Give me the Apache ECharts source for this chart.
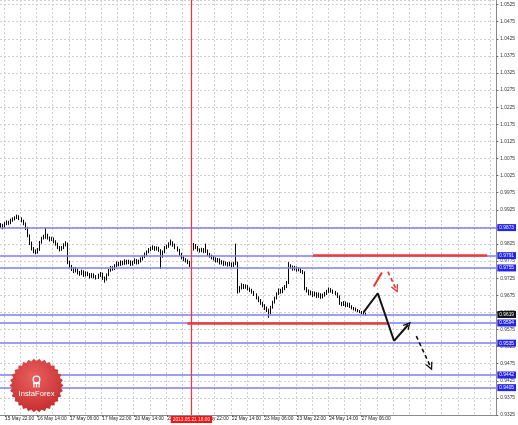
<!DOCTYPE html>
<html><head><meta charset="utf-8">
<script src="https://cdn.jsdelivr.net/npm/echarts@6/dist/echarts.min.js"></script>
<style>html,body{margin:0;padding:0;background:#fff;overflow:hidden}#c{width:518px;height:425px}</style>
</head><body><div id="c"></div>
<script>
// ---- DATA (H1 bars) ----
const opens=[0.9878,0.9880,0.9876,0.9884,0.9889,0.9886,0.9894,0.9898,0.9902,0.9906,0.9900,0.9893,0.9885,
0.9872,0.9850,0.9828,0.9812,0.9805,0.9801,0.9808,0.9830,0.9842,0.9846,0.9851,0.9843,0.9838,0.9841,0.9832,0.9826,0.9815,0.9809,0.9814,0.9822,
0.9826,0.9772,0.9760,0.9752,0.9746,0.9752,0.9741,0.9738,0.9745,0.9734,0.9740,0.9736,0.9729,0.9735,0.9730,0.9727,0.9733,0.9738,0.9726,0.9722,
0.9735,0.9748,0.9756,0.9752,0.9762,0.9769,0.9765,0.9772,0.9768,0.9775,0.9770,0.9774,0.9766,0.9771,0.9778,0.9770,0.9774,0.9781,0.9788,0.9795,
0.9802,0.9808,0.9812,0.9816,0.9810,0.9814,0.9807,0.9790,0.9802,0.9815,0.9818,0.9825,0.9830,0.9822,0.9815,0.9808,0.9796,0.9785,0.9780,0.9776,
0.9772,0.9768,0.9810,0.9822,0.9815,0.9808,0.9805,0.9810,0.9803,0.9806,0.9795,0.9790,0.9786,0.9782,0.9776,0.9780,0.9770,0.9773,0.9766,0.9769,
0.9764,0.9768,0.9762,0.9767,0.9770,0.9688,0.9697,0.9705,0.9698,0.9702,0.9694,0.9690,0.9685,0.9678,0.9668,0.9660,0.9652,0.9645,0.9638,0.9632,
0.9625,0.9640,0.9655,0.9667,0.9680,0.9690,0.9685,0.9694,0.9700,0.9712,0.9762,0.9758,0.9752,0.9756,0.9749,0.9752,0.9745,0.9742,0.9695,0.9688,
0.9680,0.9684,0.9676,0.9681,0.9672,0.9678,0.9670,0.9675,0.9680,0.9686,0.9692,0.9688,0.9684,0.9680,0.9672,0.9652,0.9648,0.9654,0.9645,0.9650,
0.9642,0.9638,0.9636,0.9632,0.9630,0.9627,0.9624,0.9621];
const closes=[0.9880,0.9876,0.9884,0.9889,0.9886,0.9894,0.9898,0.9902,0.9906,0.9900,0.9893,0.9885,0.9872,
0.9850,0.9828,0.9812,0.9805,0.9801,0.9808,0.9830,0.9842,0.9846,0.9851,0.9843,0.9838,0.9841,0.9832,0.9826,0.9815,0.9809,0.9814,0.9822,0.9826,
0.9772,0.9760,0.9752,0.9746,0.9752,0.9741,0.9738,0.9745,0.9734,0.9740,0.9736,0.9729,0.9735,0.9730,0.9727,0.9733,0.9738,0.9726,0.9722,0.9735,
0.9748,0.9756,0.9752,0.9762,0.9769,0.9765,0.9772,0.9768,0.9775,0.9770,0.9774,0.9766,0.9771,0.9778,0.9770,0.9774,0.9781,0.9788,0.9795,0.9802,
0.9808,0.9812,0.9816,0.9810,0.9814,0.9807,0.9790,0.9802,0.9815,0.9818,0.9825,0.9830,0.9822,0.9815,0.9808,0.9796,0.9785,0.9780,0.9776,0.9772,
0.9768,0.9810,0.9822,0.9815,0.9808,0.9805,0.9810,0.9803,0.9806,0.9795,0.9790,0.9786,0.9782,0.9776,0.9780,0.9770,0.9773,0.9766,0.9769,0.9764,
0.9768,0.9762,0.9767,0.9770,0.9688,0.9697,0.9705,0.9698,0.9702,0.9694,0.9690,0.9685,0.9678,0.9668,0.9660,0.9652,0.9645,0.9638,0.9632,0.9625,
0.9640,0.9655,0.9667,0.9680,0.9690,0.9685,0.9694,0.9700,0.9712,0.9762,0.9758,0.9752,0.9756,0.9749,0.9752,0.9745,0.9742,0.9695,0.9688,0.9680,
0.9684,0.9676,0.9681,0.9672,0.9678,0.9670,0.9675,0.9680,0.9686,0.9692,0.9688,0.9684,0.9680,0.9672,0.9652,0.9648,0.9654,0.9645,0.9650,0.9642,
0.9638,0.9636,0.9632,0.9630,0.9627,0.9624,0.9621,0.9619];
const highs=[0.9886,0.9884,0.9889,0.9894,0.9893,0.9899,0.9903,0.9906,0.9911,0.9909,0.9903,0.9896,0.9888,
0.9875,0.9853,0.9832,0.9816,0.9809,0.9813,0.9834,0.9846,0.9852,0.9872,0.9855,0.9847,0.9846,0.9844,0.9836,0.9829,0.9819,0.9819,0.9827,0.9833,
0.9829,0.9776,0.9764,0.9757,0.9758,0.9755,0.9746,0.9750,0.9748,0.9745,0.9744,0.9740,0.9740,0.9739,0.9734,0.9738,0.9743,0.9741,0.9730,0.9739,
0.9752,0.9761,0.9760,0.9766,0.9774,0.9773,0.9777,0.9776,0.9780,0.9779,0.9779,0.9777,0.9776,0.9783,0.9781,0.9779,0.9786,0.9792,0.9800,0.9806,
0.9813,0.9817,0.9821,0.9819,0.9818,0.9817,0.9810,0.9806,0.9819,0.9823,0.9830,0.9838,0.9833,0.9826,0.9818,0.9811,0.9799,0.9789,0.9784,0.9780,
0.9776,0.9814,0.9828,0.9825,0.9819,0.9812,0.9814,0.9813,0.9826,0.9809,0.9799,0.9794,0.9790,0.9786,0.9784,0.9783,0.9778,0.9776,0.9774,0.9772,
0.9773,0.9771,0.9772,0.9826,0.9773,0.9702,0.9710,0.9708,0.9707,0.9705,0.9698,0.9694,0.9688,0.9681,0.9672,0.9664,0.9656,0.9649,0.9642,0.9636,
0.9644,0.9659,0.9671,0.9684,0.9695,0.9694,0.9699,0.9705,0.9717,0.9772,0.9766,0.9762,0.9761,0.9759,0.9757,0.9755,0.9749,0.9745,0.9699,0.9692,
0.9689,0.9687,0.9686,0.9684,0.9683,0.9681,0.9680,0.9685,0.9691,0.9698,0.9696,0.9692,0.9688,0.9683,0.9675,0.9656,0.9658,0.9657,0.9654,0.9653,
0.9646,0.9641,0.9639,0.9635,0.9632,0.9629,0.9626,0.9624];
const lows=[0.9872,0.9868,0.9873,0.9880,0.9881,0.9883,0.9890,0.9894,0.9898,0.9895,0.9888,0.9880,0.9866,
0.9845,0.9822,0.9806,0.9798,0.9795,0.9797,0.9805,0.9826,0.9838,0.9840,0.9838,0.9832,0.9834,0.9827,0.9820,0.9810,0.9803,0.9805,0.9810,0.9818,
0.9766,0.9754,0.9746,0.9740,0.9742,0.9736,0.9732,0.9734,0.9729,0.9730,0.9731,0.9724,0.9725,0.9725,0.9721,0.9723,0.9729,0.9720,0.9712,0.9718,
0.9731,0.9744,0.9747,0.9749,0.9758,0.9760,0.9761,0.9763,0.9764,0.9765,0.9766,0.9761,0.9762,0.9767,0.9765,0.9766,0.9771,0.9777,0.9784,0.9791,
0.9798,0.9804,0.9808,0.9805,0.9806,0.9802,0.9752,0.9785,0.9798,0.9810,0.9814,0.9821,0.9817,0.9810,0.9803,0.9791,0.9780,0.9775,0.9771,0.9766,
0.9758,0.9765,0.9806,0.9810,0.9803,0.9800,0.9801,0.9798,0.9799,0.9790,0.9785,0.9780,0.9777,0.9771,0.9771,0.9765,0.9765,0.9761,0.9762,0.9759,
0.9760,0.9757,0.9758,0.9763,0.9680,0.9683,0.9692,0.9693,0.9694,0.9689,0.9685,0.9680,0.9673,0.9663,0.9655,0.9647,0.9640,0.9632,0.9626,0.9609,
0.9620,0.9636,0.9651,0.9663,0.9676,0.9680,0.9681,0.9690,0.9696,0.9708,0.9752,0.9747,0.9748,0.9744,0.9745,0.9740,0.9737,0.9690,0.9683,0.9675,
0.9675,0.9670,0.9672,0.9667,0.9668,0.9665,0.9666,0.9671,0.9676,0.9682,0.9683,0.9679,0.9675,0.9667,0.9647,0.9643,0.9644,0.9640,0.9641,0.9638,
0.9634,0.9631,0.9628,0.9626,0.9623,0.9620,0.9617,0.9615];

// horizontal levels (blue) and their right-side label box colours
const levelPrices=[0.9873,0.9791,0.9755,0.9619,0.9594,0.9535,0.9442,0.9405];
const levelBoxColors=['#2424f0','#2424f0','#2424f0','#111111','#2424f0','#2424f0','#2424f0','#2424f0'];
// red segments: [fromBar, toBar, price]
const redSegments=[[154,240,0.9791],[92,191,0.9594]];
// vertical marker bar index and its label
const markerBar=94;
const markerText='2013.05.21 18:00';
// forecast drawings [barIndex, price]
const forecastBlack=[[179,0.9626],[186,0.9681],[194,0.9542],[201,0.9589]];
const forecastBlackDashed=[[205,0.9556],[212,0.9466]];
const forecastRed=[[184,0.9701],[188,0.9742]];
const forecastRedDashed=[[191,0.9744],[195,0.9693]];
// price axis ticks
const priceAxisBase=0.9325;
const priceAxisTop=1.05385;
const priceTickStep=0.005;
const totalBars=245;
const lastLabelBar=180;

// ---- categories: H1 bars from 15 May 2013 20:00, weekends skipped ----
const months=['Jan','Feb','Mar','Apr','May','Jun','Jul','Aug','Sep','Oct','Nov','Dec'];
const categories=[];
(function(){let t=Date.UTC(2013,4,15,20);while(categories.length<totalBars){const d=new Date(t);const wd=d.getUTCDay();
if(wd!==0&&wd!==6){const hh=String(d.getUTCHours()).padStart(2,'0');categories.push(d.getUTCDate()+' '+months[d.getUTCMonth()]+' '+hh+':00');}
t+=3600000;}})();

const FONT='Liberation Sans';
const ohlc=opens.map((o,i)=>[o,closes[i],lows[i],highs[i]]);
const isLabelBar=i=>i<=lastLabelBar&&(i-2)%16===0;
const chevron='path://M0,10L5,0L10,10L8.2,10L5,3.6L1.8,10Z';

const markData=[];
levelPrices.forEach((p,k)=>markData.push({yAxis:p,lineStyle:{color:'#7c7cf2',width:1.5,type:'solid'},
 label:{show:true,position:'end',distance:1,formatter:p.toFixed(4),backgroundColor:levelBoxColors[k],color:'#fff',fontSize:4.8,fontFamily:FONT,padding:[1,2,1,2]}}));
redSegments.forEach(s=>markData.push([{coord:[s[0],s[2]],lineStyle:{color:'#ec3d3d',width:2.5,type:'solid'},label:{show:false}},{coord:[s[1],s[2]]}]));
markData.push([{coord:[markerBar,priceAxisBase],symbol:'none',lineStyle:{color:'#ff3030',width:1.2,type:'solid',opacity:1},
 label:{show:true,position:'start',distance:1,formatter:markerText,backgroundColor:'#ff1010',color:'#fff',fontSize:4.8,fontFamily:FONT,padding:[1,2,1,2]}},
 {coord:[markerBar,priceAxisTop],symbol:'none'}]);
function path(points,color,width,dashed,arrow){
 for(let k=0;k<points.length-1;k++){
  const last=k===points.length-2;
  markData.push([{coord:points[k],symbol:'none',lineStyle:{color:color,width:width,type:dashed?[4,3]:'solid'},label:{show:false}},
   {coord:points[k+1],symbol:(last&&arrow)?chevron:'none',symbolSize:[8,8]}]);
 }
}
path(forecastBlack,'#111',2,false,true);
path(forecastBlackDashed,'#111',1.6,true,true);
path(forecastRed,'#f03030',2,false,false);
path(forecastRedDashed,'#f03030',1.6,true,true);

// badge polygon (decoration)
const badgeCx=36.5,badgeCy=385.5;const badgePts=[];
for(let k=0;k<60;k++){const a=k/60*Math.PI*2;const r=k%2?24.5:27;badgePts.push([badgeCx+r*Math.cos(a),badgeCy+r*Math.sin(a)]);}

const chart=echarts.init(document.getElementById('c'),null,{renderer:'canvas'});
chart.setOption({
 animation:false,backgroundColor:'#fff',
 grid:{left:0,right:21,top:0,bottom:10},
 xAxis:{type:'category',data:categories,boundaryGap:true,
  axisLine:{show:true,lineStyle:{color:'#8a8a8a',width:1}},
  axisTick:{show:true,alignWithLabel:true,length:2,interval:(i)=>isLabelBar(i),lineStyle:{color:'#666'}},
  axisLabel:{show:true,interval:(i)=>isLabelBar(i),align:'left',margin:1,fontSize:4.8,color:'#222',fontFamily:FONT},
  splitLine:{show:true,interval:(i)=>(i-2)%8===0,lineStyle:{color:'#cfcfcf',type:[2,2],width:1}}},
 yAxis:[
  {type:'value',position:'right',min:priceAxisBase,max:priceAxisTop,axisLine:{show:true,onZero:false,lineStyle:{color:'#8a8a8a'}},
   axisTick:{show:false},axisLabel:{show:false},splitLine:{show:false}},
  {type:'value',position:'right',min:0,max:priceAxisTop-priceAxisBase,interval:priceTickStep,axisLine:{show:false},
   axisTick:{show:true,length:2,lineStyle:{color:'#666'}},
   axisLabel:{margin:4,fontSize:4.8,color:'#333',fontFamily:FONT,formatter:v=>(priceAxisBase+v).toFixed(4)},
   splitLine:{show:true,lineStyle:{color:'#cfcfcf',type:[2,2],width:1}}}],
 series:[{type:'candlestick',xAxisIndex:0,yAxisIndex:0,data:ohlc,barWidth:1,
  itemStyle:{color:'#000',color0:'#000',borderColor:'#000',borderColor0:'#000',borderWidth:1},
  markLine:{silent:true,symbol:'none',precision:4,animation:false,data:markData}}],
 graphic:[
  {type:'polygon',z:100,shape:{points:badgePts},style:{fill:{type:'radial',x:0.45,y:0.35,r:0.7,colorStops:[{offset:0,color:'#ea6060'},{offset:1,color:'#c42a2a'}]}}},
  {type:'circle',z:101,shape:{cx:36.5,cy:379.5,r:3.3},style:{fill:'none',stroke:'#fff',lineWidth:1.3}},
  {type:'rect',z:101,shape:{x:33,y:382.5,width:7,height:1.4},style:{fill:'#fff'}},
  {type:'rect',z:101,shape:{x:35.8,y:383,width:1.4,height:4.5},style:{fill:'#fff'}},
  {type:'rect',z:101,shape:{x:33.3,y:383,width:1.2,height:4.5},style:{fill:'#fff'}},
  {type:'rect',z:101,shape:{x:38.5,y:383,width:1.2,height:4.5},style:{fill:'#fff'}},
  {type:'text',z:101,x:36.5,y:394,style:{text:'InstaForex',fill:'#fff',fontSize:7.6,fontFamily:FONT,align:'center',verticalAlign:'middle'}}
 ]
});
</script></body></html>
